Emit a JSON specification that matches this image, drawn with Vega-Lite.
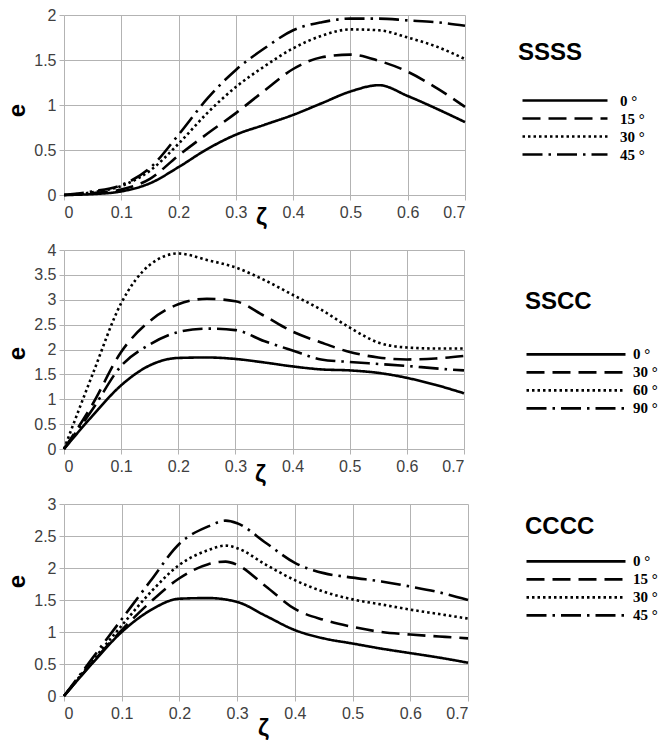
{
"$schema": "https://vega.github.io/schema/vega-lite/v6.json",
"background": "white",
"padding": {"left": 5, "top": 7, "right": 0, "bottom": 0},
"bounds": "flush",
"spacing": 55,
"config": {
  "view": {"stroke": null},
  "axis": {"labelFont": "Liberation Sans", "labelFontSize": 16, "labelColor": "#404040", "gridColor": "#b3b3b3", "gridWidth": 1, "tickColor": "#b3b3b3", "tickSize": 5, "domain": false, "titleFont": "Liberation Sans", "titleFontWeight": "bold", "titleFontSize": 24, "titleColor": "black"},
  "axisX": {"labelPadding": 4, "titleBaseline": "top"},
  "axisY": {"labelPadding": 3, "titleBaseline": "alphabetic", "titleAngle": -90},
  "legend": {"orient": "none", "padding": 0, "columns": 1, "symbolType": "stroke", "symbolStrokeWidth": 2.6, "symbolStrokeColor": "black", "rowPadding": 2, "titleFont": "Liberation Sans", "titleFontSize": 24, "titleFontWeight": "bold", "titleColor": "black", "labelFont": "Liberation Serif", "labelFontSize": 15, "labelFontWeight": "bold", "labelColor": "black", "labelLimit": 0, "labelAlign": "left"}
},
"datasets": {
"ssss": [
{"z":0,"e":0,"a":"0 °"},{"z":0.05,"e":0.01,"a":"0 °"},{"z":0.1,"e":0.04,"a":"0 °"},{"z":0.15,"e":0.13,"a":"0 °"},{"z":0.2,"e":0.31,"a":"0 °"},{"z":0.25,"e":0.51,"a":"0 °"},{"z":0.3,"e":0.67,"a":"0 °"},{"z":0.35,"e":0.78,"a":"0 °"},{"z":0.4,"e":0.89,"a":"0 °"},{"z":0.45,"e":1.02,"a":"0 °"},{"z":0.5,"e":1.15,"a":"0 °"},{"z":0.55,"e":1.22,"a":"0 °"},{"z":0.6,"e":1.1,"a":"0 °"},{"z":0.65,"e":0.96,"a":"0 °"},{"z":0.7,"e":0.81,"a":"0 °"},
{"z":0,"e":0,"a":"15 °"},{"z":0.05,"e":0.02,"a":"15 °"},{"z":0.1,"e":0.06,"a":"15 °"},{"z":0.15,"e":0.18,"a":"15 °"},{"z":0.2,"e":0.44,"a":"15 °"},{"z":0.25,"e":0.68,"a":"15 °"},{"z":0.3,"e":0.91,"a":"15 °"},{"z":0.35,"e":1.16,"a":"15 °"},{"z":0.4,"e":1.4,"a":"15 °"},{"z":0.45,"e":1.53,"a":"15 °"},{"z":0.5,"e":1.56,"a":"15 °"},{"z":0.55,"e":1.49,"a":"15 °"},{"z":0.6,"e":1.37,"a":"15 °"},{"z":0.65,"e":1.19,"a":"15 °"},{"z":0.7,"e":0.98,"a":"15 °"},
{"z":0,"e":0,"a":"30 °"},{"z":0.05,"e":0.03,"a":"30 °"},{"z":0.1,"e":0.1,"a":"30 °"},{"z":0.15,"e":0.27,"a":"30 °"},{"z":0.2,"e":0.57,"a":"30 °"},{"z":0.25,"e":0.91,"a":"30 °"},{"z":0.3,"e":1.2,"a":"30 °"},{"z":0.35,"e":1.43,"a":"30 °"},{"z":0.4,"e":1.63,"a":"30 °"},{"z":0.45,"e":1.77,"a":"30 °"},{"z":0.5,"e":1.84,"a":"30 °"},{"z":0.55,"e":1.83,"a":"30 °"},{"z":0.6,"e":1.75,"a":"30 °"},{"z":0.65,"e":1.65,"a":"30 °"},{"z":0.7,"e":1.51,"a":"30 °"},
{"z":0,"e":0,"a":"45 °"},{"z":0.05,"e":0.04,"a":"45 °"},{"z":0.1,"e":0.11,"a":"45 °"},{"z":0.15,"e":0.3,"a":"45 °"},{"z":0.2,"e":0.67,"a":"45 °"},{"z":0.25,"e":1.07,"a":"45 °"},{"z":0.3,"e":1.39,"a":"45 °"},{"z":0.35,"e":1.63,"a":"45 °"},{"z":0.4,"e":1.83,"a":"45 °"},{"z":0.45,"e":1.92,"a":"45 °"},{"z":0.5,"e":1.96,"a":"45 °"},{"z":0.55,"e":1.96,"a":"45 °"},{"z":0.6,"e":1.94,"a":"45 °"},{"z":0.65,"e":1.92,"a":"45 °"},{"z":0.7,"e":1.88,"a":"45 °"}
],
"sscc": [
{"z":0,"e":0,"a":"0 °"},{"z":0.05,"e":0.67,"a":"0 °"},{"z":0.1,"e":1.28,"a":"0 °"},{"z":0.15,"e":1.68,"a":"0 °"},{"z":0.2,"e":1.83,"a":"0 °"},{"z":0.25,"e":1.84,"a":"0 °"},{"z":0.3,"e":1.81,"a":"0 °"},{"z":0.35,"e":1.74,"a":"0 °"},{"z":0.4,"e":1.66,"a":"0 °"},{"z":0.45,"e":1.6,"a":"0 °"},{"z":0.5,"e":1.58,"a":"0 °"},{"z":0.55,"e":1.53,"a":"0 °"},{"z":0.6,"e":1.43,"a":"0 °"},{"z":0.65,"e":1.29,"a":"0 °"},{"z":0.7,"e":1.12,"a":"0 °"},
{"z":0,"e":0,"a":"30 °"},{"z":0.05,"e":0.9,"a":"30 °"},{"z":0.1,"e":1.95,"a":"30 °"},{"z":0.15,"e":2.57,"a":"30 °"},{"z":0.2,"e":2.91,"a":"30 °"},{"z":0.25,"e":3.02,"a":"30 °"},{"z":0.3,"e":2.97,"a":"30 °"},{"z":0.35,"e":2.68,"a":"30 °"},{"z":0.4,"e":2.36,"a":"30 °"},{"z":0.45,"e":2.14,"a":"30 °"},{"z":0.5,"e":1.95,"a":"30 °"},{"z":0.55,"e":1.84,"a":"30 °"},{"z":0.6,"e":1.8,"a":"30 °"},{"z":0.65,"e":1.82,"a":"30 °"},{"z":0.7,"e":1.87,"a":"30 °"},
{"z":0,"e":0,"a":"60 °"},{"z":0.05,"e":1.5,"a":"60 °"},{"z":0.1,"e":2.93,"a":"60 °"},{"z":0.15,"e":3.7,"a":"60 °"},{"z":0.2,"e":3.93,"a":"60 °"},{"z":0.25,"e":3.8,"a":"60 °"},{"z":0.3,"e":3.65,"a":"60 °"},{"z":0.35,"e":3.4,"a":"60 °"},{"z":0.4,"e":3.1,"a":"60 °"},{"z":0.45,"e":2.8,"a":"60 °"},{"z":0.5,"e":2.44,"a":"60 °"},{"z":0.55,"e":2.14,"a":"60 °"},{"z":0.6,"e":2.04,"a":"60 °"},{"z":0.65,"e":2.02,"a":"60 °"},{"z":0.7,"e":2.02,"a":"60 °"},
{"z":0,"e":0,"a":"90 °"},{"z":0.05,"e":0.8,"a":"90 °"},{"z":0.1,"e":1.67,"a":"90 °"},{"z":0.15,"e":2.1,"a":"90 °"},{"z":0.2,"e":2.35,"a":"90 °"},{"z":0.25,"e":2.42,"a":"90 °"},{"z":0.3,"e":2.39,"a":"90 °"},{"z":0.35,"e":2.17,"a":"90 °"},{"z":0.4,"e":1.98,"a":"90 °"},{"z":0.45,"e":1.8,"a":"90 °"},{"z":0.5,"e":1.75,"a":"90 °"},{"z":0.55,"e":1.71,"a":"90 °"},{"z":0.6,"e":1.67,"a":"90 °"},{"z":0.65,"e":1.62,"a":"90 °"},{"z":0.7,"e":1.58,"a":"90 °"}
],
"cccc": [
{"z":0,"e":0,"a":"0 °"},{"z":0.05,"e":0.52,"a":"0 °"},{"z":0.1,"e":1.0,"a":"0 °"},{"z":0.15,"e":1.34,"a":"0 °"},{"z":0.2,"e":1.52,"a":"0 °"},{"z":0.25,"e":1.53,"a":"0 °"},{"z":0.3,"e":1.47,"a":"0 °"},{"z":0.35,"e":1.25,"a":"0 °"},{"z":0.4,"e":1.03,"a":"0 °"},{"z":0.45,"e":0.9,"a":"0 °"},{"z":0.5,"e":0.82,"a":"0 °"},{"z":0.55,"e":0.74,"a":"0 °"},{"z":0.6,"e":0.67,"a":"0 °"},{"z":0.65,"e":0.6,"a":"0 °"},{"z":0.7,"e":0.52,"a":"0 °"},
{"z":0,"e":0,"a":"15 °"},{"z":0.05,"e":0.53,"a":"15 °"},{"z":0.1,"e":1.03,"a":"15 °"},{"z":0.15,"e":1.47,"a":"15 °"},{"z":0.2,"e":1.84,"a":"15 °"},{"z":0.25,"e":2.06,"a":"15 °"},{"z":0.28,"e":2.1,"a":"15 °"},{"z":0.3,"e":2.05,"a":"15 °"},{"z":0.35,"e":1.71,"a":"15 °"},{"z":0.4,"e":1.36,"a":"15 °"},{"z":0.45,"e":1.19,"a":"15 °"},{"z":0.5,"e":1.08,"a":"15 °"},{"z":0.55,"e":1.0,"a":"15 °"},{"z":0.6,"e":0.96,"a":"15 °"},{"z":0.65,"e":0.93,"a":"15 °"},{"z":0.7,"e":0.9,"a":"15 °"},
{"z":0,"e":0,"a":"30 °"},{"z":0.05,"e":0.56,"a":"30 °"},{"z":0.1,"e":1.1,"a":"30 °"},{"z":0.15,"e":1.62,"a":"30 °"},{"z":0.2,"e":2.05,"a":"30 °"},{"z":0.25,"e":2.28,"a":"30 °"},{"z":0.28,"e":2.35,"a":"30 °"},{"z":0.3,"e":2.31,"a":"30 °"},{"z":0.35,"e":2.05,"a":"30 °"},{"z":0.4,"e":1.81,"a":"30 °"},{"z":0.45,"e":1.63,"a":"30 °"},{"z":0.5,"e":1.51,"a":"30 °"},{"z":0.55,"e":1.43,"a":"30 °"},{"z":0.6,"e":1.35,"a":"30 °"},{"z":0.65,"e":1.28,"a":"30 °"},{"z":0.7,"e":1.21,"a":"30 °"},
{"z":0,"e":0,"a":"45 °"},{"z":0.05,"e":0.6,"a":"45 °"},{"z":0.1,"e":1.2,"a":"45 °"},{"z":0.15,"e":1.8,"a":"45 °"},{"z":0.2,"e":2.38,"a":"45 °"},{"z":0.25,"e":2.65,"a":"45 °"},{"z":0.28,"e":2.74,"a":"45 °"},{"z":0.3,"e":2.7,"a":"45 °"},{"z":0.35,"e":2.39,"a":"45 °"},{"z":0.4,"e":2.08,"a":"45 °"},{"z":0.45,"e":1.92,"a":"45 °"},{"z":0.5,"e":1.85,"a":"45 °"},{"z":0.55,"e":1.79,"a":"45 °"},{"z":0.6,"e":1.71,"a":"45 °"},{"z":0.65,"e":1.62,"a":"45 °"},{"z":0.7,"e":1.5,"a":"45 °"}
]
},
"resolve": {"scale": {"x": "independent", "y": "independent", "strokeDash": "independent"}, "legend": {"strokeDash": "independent"}},
"vconcat": [
{
  "width": 401, "height": 180,
  "data": {"name": "ssss"},
  "mark": {"type": "line", "color": "black", "strokeWidth": 2.6, "interpolate": "monotone"},
  "encoding": {
    "x": {"field": "z", "type": "quantitative", "scale": {"domain": [0, 0.7], "nice": false}, "axis": {"values": [0,0.1,0.2,0.3,0.4,0.5,0.6,0.7], "format": "~g", "title": "ζ", "titleX": 197, "titleY": 10}},
    "y": {"field": "e", "type": "quantitative", "scale": {"domain": [0, 2], "nice": false}, "axis": {"values": [0,0.5,1,1.5,2], "format": "~g", "title": "e", "titleX": -40, "titleY": 95}},
    "strokeDash": {"field": "a", "type": "nominal", "scale": {"domain": ["0 °","15 °","30 °","45 °"], "range": [[1,0],[18,8],[2.5,3],[20,6,2.5,6]]},
      "legend": {"title": "SSSS", "legendX": 454, "legendY": 26, "titlePadding": 29, "symbolSize": 7225, "clipHeight": 13, "symbolOffset": 3, "labelOffset": 11}}
  }
},
{
  "width": 400, "height": 199,
  "data": {"name": "sscc"},
  "mark": {"type": "line", "color": "black", "strokeWidth": 2.6, "interpolate": "monotone"},
  "encoding": {
    "x": {"field": "z", "type": "quantitative", "scale": {"domain": [0, 0.7], "nice": false}, "axis": {"values": [0,0.1,0.2,0.3,0.4,0.5,0.6,0.7], "format": "~g", "title": "ζ", "titleX": 196, "titleY": 13}},
    "y": {"field": "e", "type": "quantitative", "scale": {"domain": [0, 4], "nice": false}, "axis": {"values": [0,0.5,1,1.5,2,2.5,3,3.5,4], "format": "~g", "title": "e", "titleX": -40, "titleY": 103}},
    "strokeDash": {"field": "a", "type": "nominal", "scale": {"domain": ["0 °","30 °","60 °","90 °"], "range": [[1,0],[18,8],[2.5,3],[20,6,2.5,6]]},
      "legend": {"title": "SSCC", "legendX": 461, "legendY": 40, "titlePadding": 33, "symbolSize": 9801, "clipHeight": 14.7, "labelOffset": 6}}
  }
},
{
  "width": 404, "height": 192,
  "data": {"name": "cccc"},
  "mark": {"type": "line", "color": "black", "strokeWidth": 2.6, "interpolate": "monotone"},
  "encoding": {
    "x": {"field": "z", "type": "quantitative", "scale": {"domain": [0, 0.7], "nice": false}, "axis": {"values": [0,0.1,0.2,0.3,0.4,0.5,0.6,0.7], "format": "~g", "title": "ζ", "titleX": 199, "titleY": 20}},
    "y": {"field": "e", "type": "quantitative", "scale": {"domain": [0, 3], "nice": false}, "axis": {"values": [0,0.5,1,1.5,2,2.5,3], "format": "~g", "title": "e", "titleX": -40, "titleY": 77}},
    "strokeDash": {"field": "a", "type": "nominal", "scale": {"domain": ["0 °","15 °","30 °","45 °"], "range": [[1,0],[18,8],[2.5,3],[20,6,2.5,6]]},
      "legend": {"title": "\u00a0\u00a0CCCC", "legendX": 461, "legendY": 11, "titlePadding": 15, "symbolSize": 9801, "clipHeight": 14.7, "labelOffset": 6}}
  }
}
]
}
